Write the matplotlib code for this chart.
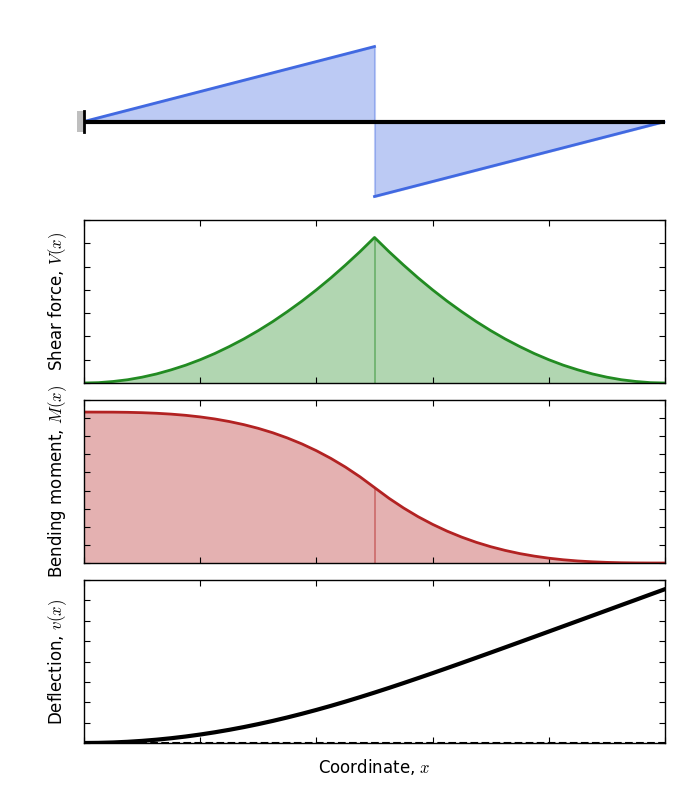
import numpy as np
import matplotlib
matplotlib.use('Agg')
import matplotlib.pyplot as plt
from matplotlib.ticker import MultipleLocator
from matplotlib.patches import Rectangle

plt.rcParams['mathtext.fontset'] = 'cm'
plt.rcParams['font.family'] = ['DejaVu Sans']

# coordinate along the beam
x = [0.0, 0.025, 0.05, 0.075, 0.1, 0.125, 0.15, 0.175, 0.2, 0.225, 0.25,
     0.275, 0.3, 0.325, 0.35, 0.375, 0.4, 0.425, 0.45, 0.475, 0.5,
     0.525, 0.55, 0.575, 0.6, 0.625, 0.65, 0.675, 0.7, 0.725, 0.75,
     0.775, 0.8, 0.825, 0.85, 0.875, 0.9, 0.925, 0.95, 0.975, 1.0]

# distributed load (top sketch)
load_x = [0.0, 0.5, 0.5, 1.0]
load_q = [0.0, 1.0, -1.0, 0.0]

# shear force
shear = [0.0, 0.0003, 0.0013, 0.0028, 0.005, 0.0078, 0.0113, 0.0153, 0.02, 0.0253, 0.0313,
         0.0378, 0.045, 0.0528, 0.0613, 0.0703, 0.08, 0.0903, 0.1013, 0.1128, 0.125,
         0.1128, 0.1013, 0.0903, 0.08, 0.0703, 0.0613, 0.0528, 0.045, 0.0378, 0.0313,
         0.0253, 0.02, 0.0153, 0.0113, 0.0078, 0.005, 0.0028, 0.0013, 0.0003, 0.0]

# bending moment
moment = [0.04167, 0.04166, 0.04165, 0.0416, 0.0415, 0.04134, 0.0411, 0.04077, 0.04033, 0.03977, 0.03906,
          0.0382, 0.03717, 0.03595, 0.03452, 0.03288, 0.031, 0.02887, 0.02648, 0.0238, 0.02083,
          0.01786, 0.01519, 0.01279, 0.01067, 0.00879, 0.00715, 0.00572, 0.0045, 0.00347, 0.0026,
          0.0019, 0.00133, 0.00089, 0.00056, 0.00033, 0.00017, 0.00007, 0.00002, 0.0, 0.0]

# deflection
defl = [0.0, 0.000013, 0.000052, 0.000117, 0.000208, 0.000325, 0.000468, 0.000637, 0.000831, 0.00105, 0.001294,
        0.001562, 0.001855, 0.00217, 0.002508, 0.002868, 0.003248, 0.003647, 0.004065, 0.0045, 0.004948,
        0.005409, 0.005883, 0.006366, 0.006856, 0.007353, 0.007856, 0.008364, 0.008874, 0.009388, 0.009904,
        0.010422, 0.01094, 0.01146, 0.01198, 0.0125, 0.01302, 0.013542, 0.01406, 0.014583, 0.0151]

fig = plt.figure(figsize=(7, 8), dpi=100)

# beam with load
ax0 = fig.add_axes([0.12, 1 - 203 / 800, 0.83, 163 / 800])
ax0.fill_between(load_x, load_q, 0, color='royalblue', alpha=0.35, lw=1.5)
ax0.plot(load_x[:2], load_q[:2], color='royalblue', lw=2)
ax0.plot(load_x[2:], load_q[2:], color='royalblue', lw=2)
ax0.plot([0, 1], [0, 0], color='k', lw=3, solid_capstyle='butt')
ax0.add_patch(Rectangle((-0.012, -0.14), 0.012, 0.28, color='0.75', lw=0, clip_on=False))
ax0.plot([0, 0], [-0.14, 0.14], color='k', lw=2, clip_on=False)
ax0.set_xlim(0, 1)
ax0.set_ylim(-1.087, 1.087)
ax0.axis('off')


def style(ax):
    ax.set_xlim(0, 1)
    ax.xaxis.set_major_locator(MultipleLocator(0.2))
    ax.tick_params(direction='in', top=True, right=True, length=4, width=0.8,
                   labelbottom=False, labelleft=False)
    for s in ax.spines.values():
        s.set_linewidth(1.0)


ax1 = fig.add_axes([0.12, 1 - 383 / 800, 0.83, 163 / 800])
ax1.fill_between(x, shear, 0, color='forestgreen', alpha=0.35, lw=0)
ax1.plot(x, shear, color='forestgreen', lw=2)
ax1.vlines(0.5, 0, shear[20], color='forestgreen', alpha=0.5, lw=1.2)
ax1.set_ylim(0, 0.14)
ax1.yaxis.set_major_locator(MultipleLocator(0.02))
style(ax1)
ax1.set_ylabel('Shear force, $V(x)$', fontsize=12, labelpad=11)

ax2 = fig.add_axes([0.12, 1 - 563 / 800, 0.83, 163 / 800])
ax2.fill_between(x, moment, 0, color='firebrick', alpha=0.35, lw=0)
ax2.plot(x, moment, color='firebrick', lw=2)
ax2.vlines(0.5, 0, moment[20], color='firebrick', alpha=0.5, lw=1.2)
ax2.set_ylim(0, 0.045)
ax2.yaxis.set_major_locator(MultipleLocator(0.005))
style(ax2)
ax2.set_ylabel('Bending moment, $M(x)$', fontsize=12, labelpad=11)

ax3 = fig.add_axes([0.12, 1 - 743 / 800, 0.83, 163 / 800])
ax3.plot(x, defl, color='k', lw=3)
ax3.axhline(0, color='k', ls='--', lw=1.5, zorder=3)
ax3.set_ylim(0, 0.016)
ax3.yaxis.set_major_locator(MultipleLocator(0.002))
style(ax3)
ax3.set_ylabel('Deflection, $v(x)$', fontsize=12, labelpad=11)
ax3.set_xlabel('Coordinate, $x$', fontsize=12, labelpad=10)

fig.savefig('out.png', dpi=100)
